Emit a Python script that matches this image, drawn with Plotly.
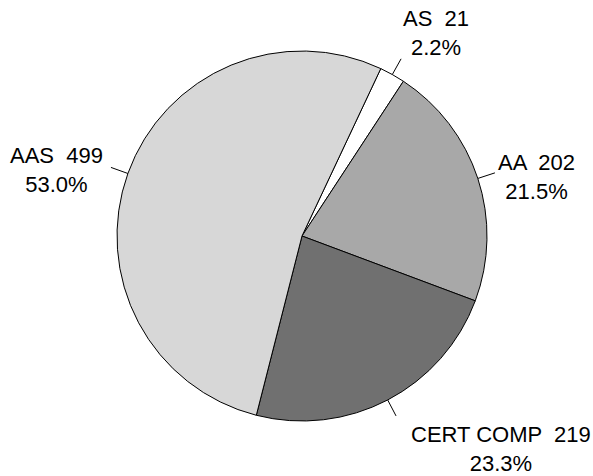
import math
import plotly.graph_objects as go

labels = ["AS", "AA", "CERT COMP", "AAS"]
values = [21, 202, 219, 499]
colors = ["#ffffff", "#a8a8a8", "#707070", "#d7d7d7"]

W, H = 593, 476
CX, CY, R = 302, 236, 185  # pixel center (from top) and radius
START = 25.2  # degrees clockwise from 12 o'clock

fig = go.Figure(go.Pie(
    labels=labels, values=values, sort=False, direction="clockwise",
    rotation=START, textinfo="none", hoverinfo="label+value+percent",
    marker=dict(colors=colors, line=dict(color="#000000", width=1)),
    domain=dict(x=[(CX - R) / W, (CX + R) / W],
                y=[(H - CY - R) / H, (H - CY + R) / H]),
    showlegend=False,
))

def px2paper(x, y):
    return x / W, 1 - y / H

total = sum(values)
cum = 0
anchors = {
    "AS": dict(xanchor="left", yanchor="bottom", xshift=0, yshift=-3),
    "AA": dict(xanchor="left", yanchor="middle", xshift=1, yshift=-4),
    "CERT COMP": dict(xanchor="left", yanchor="top", xshift=13, yshift=-4),
    "AAS": dict(xanchor="right", yanchor="middle", xshift=-6, yshift=-3),
}
shapes = []
annotations = []
for lab, v in zip(labels, values):
    mid = START + 360 * (cum + v / 2) / total
    cum += v
    a = math.radians(mid)
    x0, y0 = CX + R * math.sin(a), CY - R * math.cos(a)
    x1, y1 = CX + (R + 18) * math.sin(a), CY - (R + 18) * math.cos(a)
    p0, p1 = px2paper(x0, y0), px2paper(x1, y1)
    shapes.append(dict(type="line", xref="paper", yref="paper",
                       x0=p0[0], y0=p0[1], x1=p1[0], y1=p1[1],
                       line=dict(color="#000000", width=1)))
    pct = 100 * v / total
    an = anchors[lab]
    annotations.append(dict(
        xref="paper", yref="paper", x=p1[0], y=p1[1], showarrow=False,
        text=f"{lab}  {v}<br>{pct:.1f}%", align="center",
        font=dict(family="Liberation Sans, Arial, sans-serif", size=22, color="#000000"),
        **an))

fig.update_layout(
    width=W, height=H, margin=dict(l=0, r=0, t=0, b=0),
    paper_bgcolor="#ffffff", plot_bgcolor="#ffffff",
    shapes=shapes, annotations=annotations,
)
fig.write_html(
    "out.html",
    config={"displayModeBar": False},
    post_script="document.body.style.margin='0';document.body.style.overflow='hidden';",
)
